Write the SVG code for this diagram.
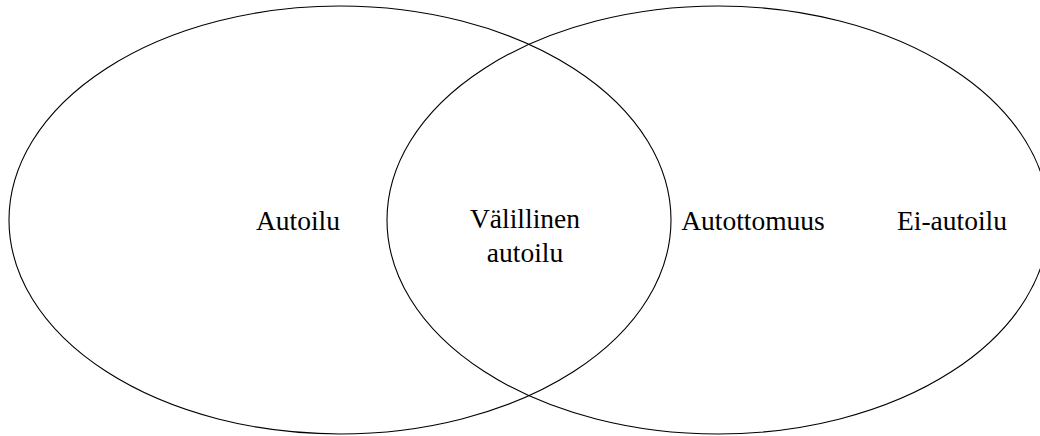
<svg xmlns="http://www.w3.org/2000/svg" width="1040" height="436" viewBox="0 0 1040 436">
<style>
.set{fill:none;stroke:#000;stroke-width:1.1}
.lbl{font-family:"Liberation Serif","Times New Roman",serif;font-size:27.5px;fill:#000;text-anchor:middle}
</style>
<rect width="1040" height="436" fill="#fff"/>
<g id="set-autoilu"><ellipse class="set" cx="340" cy="220" rx="331" ry="214"/><text class="lbl" x="298" y="230">Autoilu</text></g>
<g id="set-ei-autoilu"><ellipse class="set" cx="718" cy="220" rx="331" ry="214"/><text class="lbl" x="952" y="230">Ei-autoilu</text></g>
<g id="intersection"><text class="lbl" x="525" y="228">Välillinen</text><text class="lbl" x="525" y="262">autoilu</text></g>
<g id="autottomuus"><text class="lbl" x="753" y="230">Autottomuus</text></g>
<g id="connectors"></g>
</svg>
